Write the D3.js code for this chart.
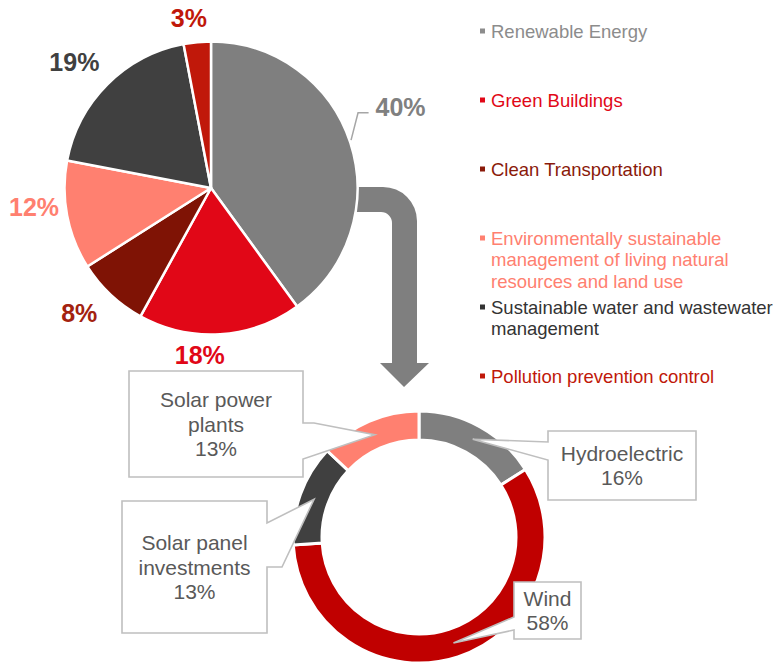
<!DOCTYPE html>
<html><head><meta charset="utf-8">
<script src="https://cdn.jsdelivr.net/npm/d3@7"></script>
<style>html,body{margin:0;padding:0;background:#fff;} svg{display:block;font-family:"Liberation Sans",Arial,Helvetica,sans-serif;}</style>
</head><body><div id="chart"></div>
<script>
// ---- data ----
const categories = ["Renewable Energy", "Green Buildings", "Clean Transportation",
  "Environmentally sustainable management of living natural resources and land use",
  "Sustainable water and wastewater management", "Pollution prevention control"];
const legendLines = [["Renewable Energy"], ["Green Buildings"], ["Clean Transportation"],
  ["Environmentally sustainable", "management of living natural", "resources and land use"],
  ["Sustainable water and wastewater", "management"], ["Pollution prevention control"]];
const shares = [40, 18, 8, 12, 19, 3];
const sliceColors = ["#7f7f7f", "#e10717", "#7f1305", "#ff8070", "#404040", "#c0180a"];
const labelColors = ["#808080", "#e10717", "#a3220f", "#ff8070", "#404040", "#c0180a"];
const legendColors = ["#8c8c8c", "#e10717", "#8a1a0a", "#ff8070", "#333333", "#c0180a"];

const renewableParts = ["Hydroelectric", "Wind", "Solar panel investments", "Solar power plants"];
const renewableLines = [["Hydroelectric"], ["Wind"], ["Solar panel", "investments"], ["Solar power", "plants"]];
const renewableShares = [16, 58, 13, 13];
const renewableColors = ["#7f7f7f", "#c00000", "#404040", "#ff8070"];

// ---- layout ----
const W = 777, H = 665;
const pieC = [211, 188], pieR = 146.5, pieLabelR = 172;
const labelNudge = [[26, -28], [-22, -5], [-14, 0], [-8, -13], [-15, -4], [-6, 1]];
const donutC = [419, 537], donutOuter = 126, donutInner = 97;
// callout boxes: box rect + tail base points (absolute layout)
const callouts = [
  {box: [548, 431, 148, 69], side: "left", base: [[548, 460], [548, 442]]},
  {box: [514, 582, 67, 57], side: "left", base: [[514, 630], [514, 617]]},
  {box: [122, 501, 145, 132], side: "right", base: [[267, 523], [282, 567]]},
  {box: [129, 371, 174, 106], side: "right", base: [[314, 423], [303, 459]], pre: 423}
];

const svg = d3.select("#chart").append("svg").attr("width", W).attr("height", H);

// arrow connecting the Renewable slice to its breakdown
svg.append("path")
  .attr("d", "M340,187 H383 A34,34 0 0 1 417,221 V363 H429 L404,387 L380,363 H392 V223 A11,11 0 0 0 381,212 H340 Z")
  .attr("fill", "#7f7f7f");

// ---- main pie ----
const pie = d3.pie().sort(null).value(d => d)(shares);
const arc = d3.arc().innerRadius(0).outerRadius(pieR);
const gPie = svg.append("g").attr("transform", `translate(${pieC})`);
gPie.selectAll("path").data(pie).join("path")
  .attr("d", arc)
  .attr("fill", (d, i) => sliceColors[i])
  .attr("stroke", "#fff").attr("stroke-width", 2.5).attr("stroke-linejoin", "round");

const labelArc = d3.arc().innerRadius(pieLabelR).outerRadius(pieLabelR);
const labelPos = pie.map((d, i) => {
  const c = labelArc.centroid(d);
  return [c[0] + labelNudge[i][0], c[1] + labelNudge[i][1]];
});
// leader line for the first slice
{
  const a = (pie[0].startAngle + pie[0].endAngle) / 2 - 0.015;
  const p0 = [Math.sin(a) * (pieR + 1.5), -Math.cos(a) * (pieR + 1.5)];
  const lp = labelPos[0];
  const yk = lp[1] + 6;
  gPie.append("polyline")
    .attr("points", [p0, [p0[0] + 7, yk], [lp[0] - 32, yk]].map(p => p.join(",")).join(" "))
    .attr("fill", "none").attr("stroke", "#a6a6a6").attr("stroke-width", 1.5);
}
gPie.selectAll("text.lbl").data(pie).join("text").attr("class", "lbl")
  .attr("x", (d, i) => labelPos[i][0]).attr("y", (d, i) => labelPos[i][1])
  .attr("dy", "0.36em").attr("text-anchor", "middle")
  .attr("font-size", 25).attr("font-weight", "bold")
  .attr("fill", (d, i) => labelColors[i])
  .text(d => d.data + "%");

// ---- legend ----
const legX = 480, legY0 = 31, legStep = 69, legLine = 21.5;
const gLeg = svg.append("g");
categories.forEach((c, i) => {
  const y = legY0 + i * legStep;
  gLeg.append("rect").attr("x", legX).attr("y", y - 2.5).attr("width", 5).attr("height", 5)
    .attr("fill", legendColors[i]);
  const t = gLeg.append("text").attr("x", legX + 11).attr("y", y).attr("dy", "0.36em")
    .attr("font-size", 18.5).attr("fill", legendColors[i]);
  legendLines[i].forEach((ln, j) => {
    t.append("tspan").attr("x", legX + 11).attr("y", y + j * legLine).attr("dy", "0.36em").text(ln);
  });
});

// ---- donut ----
const dpie = d3.pie().sort(null).value(d => d)(renewableShares);
const darc = d3.arc().innerRadius(donutInner).outerRadius(donutOuter);
const gD = svg.append("g").attr("transform", `translate(${donutC})`);
gD.selectAll("path").data(dpie).join("path")
  .attr("d", darc)
  .attr("fill", (d, i) => renewableColors[i])
  .attr("stroke", "#fff").attr("stroke-width", 3);

// ---- callouts ----
const gC = svg.append("g");
dpie.forEach((d, i) => {
  const c = darc.centroid(d);
  const tip = [c[0] + donutC[0], c[1] + donutC[1]];
  const co = callouts[i];
  const [x, y, w, h] = co.box;
  let p;
  if (co.side === "left") {
    p = `M${x},${y} H${x + w} V${y + h} H${x} V${co.base[0][1]} L${tip} L${co.base[1][0]},${co.base[1][1]} Z`;
  } else if (co.pre !== undefined) {
    p = `M${x},${y} H${x + w} V${co.pre} H${co.base[0][0]} L${tip} L${co.base[1][0]},${co.base[1][1]} V${y + h} H${x} Z`;
  } else {
    p = `M${x},${y} H${x + w} V${co.base[0][1]} L${tip} L${co.base[1][0]},${co.base[1][1]} H${x + w} V${y + h} H${x} Z`;
  }
  gC.append("path").attr("d", p).attr("fill", "#fff").attr("stroke", "#bfbfbf").attr("stroke-width", 1.6)
    .attr("stroke-linejoin", "miter");
  const lines = renewableLines[i].concat([d.data + "%"]);
  const lh = 24.5;
  const cy = y + h / 2 - (lines.length - 1) * lh / 2;
  const t = gC.append("text").attr("text-anchor", "middle").attr("font-size", 21).attr("fill", "#595959");
  lines.forEach((ln, j) => {
    t.append("tspan").attr("x", x + w / 2).attr("y", cy + j * lh).attr("dy", "0.36em").text(ln);
  });
});
</script></body></html>
